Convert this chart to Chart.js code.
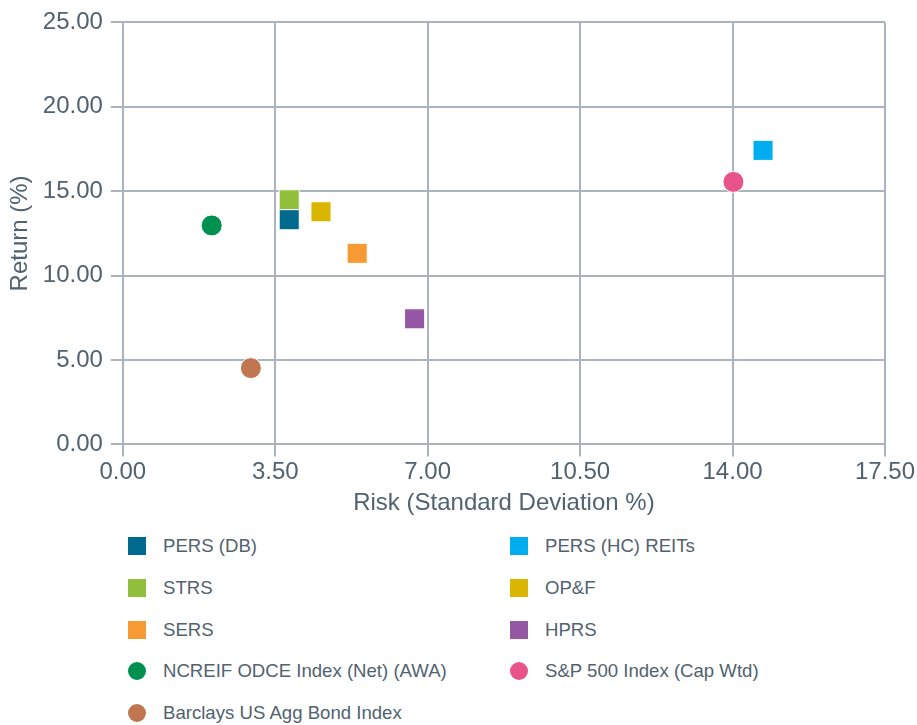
<!DOCTYPE html>
<html>
<head>
<meta charset="utf-8">
<script src="https://cdn.jsdelivr.net/npm/chart.js@4.4.0/dist/chart.umd.min.js"></script>
<style>
  html,body{margin:0;padding:0;background:#fff;}
  body{width:917px;height:725px;position:relative;overflow:hidden;font-family:"Liberation Sans",Arial,sans-serif;}
  #wrap{position:absolute;left:0;top:0;width:917px;height:520px;}
  #legend{position:absolute;left:128px;top:535px;display:grid;grid-template-columns:382px 300px;grid-auto-rows:41.8px;}
  .lg-item{display:flex;align-items:center;height:22px;font-size:18.6px;color:#516270;}
  .lg-mark{width:18px;height:18px;margin-right:17px;flex-shrink:0;}
  .lg-mark.circle{border-radius:50%;}
</style>
</head>
<body>
<div id="wrap"><canvas id="chart" width="917" height="520"></canvas></div>
<div id="legend"></div>
<script>
/* Risk / return scatter */

// series, in legend order (row by row, two columns)
var names   = ['PERS (DB)','PERS (HC) REITs','STRS','OP&F','SERS','HPRS','NCREIF ODCE Index (Net) (AWA)','S&P 500 Index (Cap Wtd)','Barclays US Agg Bond Index'];
var risk    = [3.82, 14.70, 3.82, 4.55, 5.38, 6.70, 2.04, 14.02, 2.94];
var ret     = [13.31, 17.42, 14.49, 13.78, 11.32, 7.44, 12.97, 15.55, 4.52];
var colors  = ['#006a8e','#00aeef','#93c03c','#dab600','#f79a34','#9457a4','#00904f','#e8538a','#c07650'];
var shapes  = ['rect','rect','rect','rect','rect','rect','circle','circle','circle'];

var xTicks = [0, 3.5, 7, 10.5, 14, 17.5];
var yTicks = [0, 5, 10, 15, 20, 25];

var TEXT = '#516270';
var GRID = '#aab4bf';
var FONT = '"Liberation Sans", Arial, sans-serif';

var datasets = names.map(function(n, i){
  return {
    label: n,
    data: [{x: risk[i], y: ret[i]}],
    backgroundColor: colors[i],
    borderColor: '#ffffff',
    borderWidth: 1,
    pointStyle: shapes[i],
    pointRadius: shapes[i]==='rect' ? 14.2 : 10.5,
    pointHoverRadius: shapes[i]==='rect' ? 14.2 : 10.5
  };
});

new Chart(document.getElementById('chart'), {
  type: 'scatter',
  data: {datasets: datasets},
  options: {
    responsive: false,
    animation: false,
    layout: {padding: {top: 9, right: 3, bottom: 2, left: 6}},
    plugins: {legend: {display: false}, tooltip: {enabled: false}},
    scales: {
      x: {
        min: 0, max: 17.5,
        afterBuildTicks: function(ax){ ax.ticks = xTicks.map(function(v){ return {value: v}; }); },
        grid: {color: GRID, lineWidth: 2, tickLength: 12, drawTicks: true},
        border: {color: GRID, width: 2},
        ticks: {color: TEXT, font: {family: FONT, size: 24}, padding: 2, maxRotation: 0,
                callback: function(v){ return Number(v).toFixed(2); }},
        title: {display: true, text: 'Risk (Standard Deviation %)', color: TEXT, font: {family: FONT, size: 24}, padding: {top: 0, bottom: 0}}
      },
      y: {
        min: 0, max: 25,
        afterBuildTicks: function(ax){ ax.ticks = yTicks.map(function(v){ return {value: v}; }); },
        grid: {color: GRID, lineWidth: 2, tickLength: 12, drawTicks: true},
        border: {color: GRID, width: 2},
        ticks: {color: TEXT, font: {family: FONT, size: 24}, padding: 8,
                callback: function(v){ return Number(v).toFixed(2); }},
        title: {display: true, text: 'Return (%)', color: TEXT, font: {family: FONT, size: 24}, padding: {top: 0, bottom: 0}}
      }
    }
  }
});

// html legend, built from the same arrays
var lg = document.getElementById('legend');
names.forEach(function(n, i){
  var item = document.createElement('div');
  item.className = 'lg-item';
  item.innerHTML = '<div class="lg-mark' + (shapes[i]==='circle' ? ' circle' : '') + '" style="background:' + colors[i] + '"></div><span></span>';
  item.querySelector('span').textContent = n;
  lg.appendChild(item);
});
</script>
</body>
</html>
